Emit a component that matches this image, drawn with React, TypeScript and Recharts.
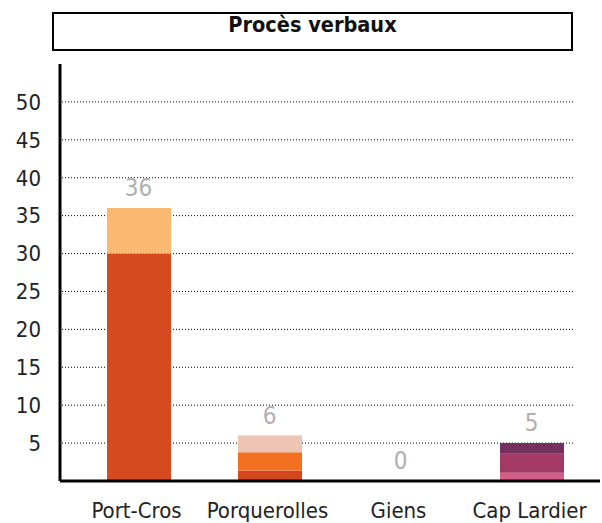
import { ComposedChart, Bar, Scatter, XAxis, YAxis, CartesianGrid, Cell } from 'recharts'

const sites = ['Port-Cros', 'Porquerolles', 'Giens', 'Cap Lardier']
const seg1 = [30, 1.4, 0, 1.1]
const seg2 = [6, 2.4, 0, 2.5]
const seg3 = [0, 2.2, 0, 1.4]
const totals = [36, 6, 0, 5]
const yTicks = [5, 10, 15, 20, 25, 30, 35, 40, 45, 50]

const colors1 = ['#d64a1f', '#d4461e', '#d64a1f', '#d45e85']
const colors2 = ['#fbb870', '#f37021', '#f37021', '#a23a65']
const colors3 = ['#fbb870', '#eec4b4', '#eec4b4', '#74305f']

const data = sites.map((name, i) => ({
  name,
  s1: seg1[i],
  s2: seg2[i],
  s3: seg3[i],
  total: totals[i],
}))

const font = '"DejaVu Sans Condensed", "DejaVu Sans", sans-serif'

const GridLine = (p: any) => (
  <line
    key={`g-${p.y1}`}
    x1={p.x1 + 2}
    x2={p.x2 - 26}
    y1={p.y1}
    y2={p.y2}
    stroke="#000"
    strokeWidth={1}
    strokeDasharray="1 2"
  />
)

// value labels above each stack, drawn as scatter shapes so the 0 shows too
const TotalLabel = (p: any) => (
  <text x={p.cx} y={p.cy - 12} textAnchor="middle" fill="#b0b0b0" fontSize={24} fontFamily={font}>
    {p.payload.total}
  </text>
)

export default function App() {
  return (
    <div style={{ position: 'absolute', left: 0, top: 0, width: 602, height: 523, background: '#fff', fontFamily: font }}>
      <div
        style={{
          position: 'absolute',
          left: 52,
          top: 12,
          width: 521,
          height: 39,
          border: '2px solid #000',
          boxSizing: 'border-box',
          textAlign: 'center',
          fontWeight: 'bold',
          fontSize: 21.5,
          lineHeight: '21px',
          color: '#111',
        }}
      >
        Procès verbaux
      </div>
      <ComposedChart
        width={602}
        height={523}
        data={data}
        margin={{ top: 64, right: 2, bottom: 0, left: 0 }}
        barSize={64}
        style={{ fontFamily: font }}
      >
        <CartesianGrid vertical={false} horizontal={GridLine} horizontalValues={yTicks} />
        <XAxis
          dataKey="name"
          height={42}
          padding={{ left: 13, right: 3 }}
          axisLine={{ stroke: '#000', strokeWidth: 3 }}
          tickLine={false}
          tickSize={8}
          tickMargin={13}
          tick={{ fontSize: 22, fill: '#222', dx: -2 }}
          interval={0}
        />
        <YAxis
          width={60}
          domain={[0, 55]}
          ticks={yTicks}
          axisLine={{ stroke: '#000', strokeWidth: 3 }}
          tickLine={false}
          tickSize={8}
          tickMargin={11}
          tick={{ fontSize: 22, fill: '#222' }}
        />
        <Bar dataKey="s1" stackId="a" isAnimationActive={false}>
          {data.map((d, i) => (
            <Cell key={d.name} fill={colors1[i]} />
          ))}
        </Bar>
        <Bar dataKey="s2" stackId="a" isAnimationActive={false}>
          {data.map((d, i) => (
            <Cell key={d.name} fill={colors2[i]} />
          ))}
        </Bar>
        <Bar dataKey="s3" stackId="a" isAnimationActive={false}>
          {data.map((d, i) => (
            <Cell key={d.name} fill={colors3[i]} />
          ))}
        </Bar>
        <Scatter dataKey="total" shape={TotalLabel} isAnimationActive={false} />
      </ComposedChart>
    </div>
  )
}
